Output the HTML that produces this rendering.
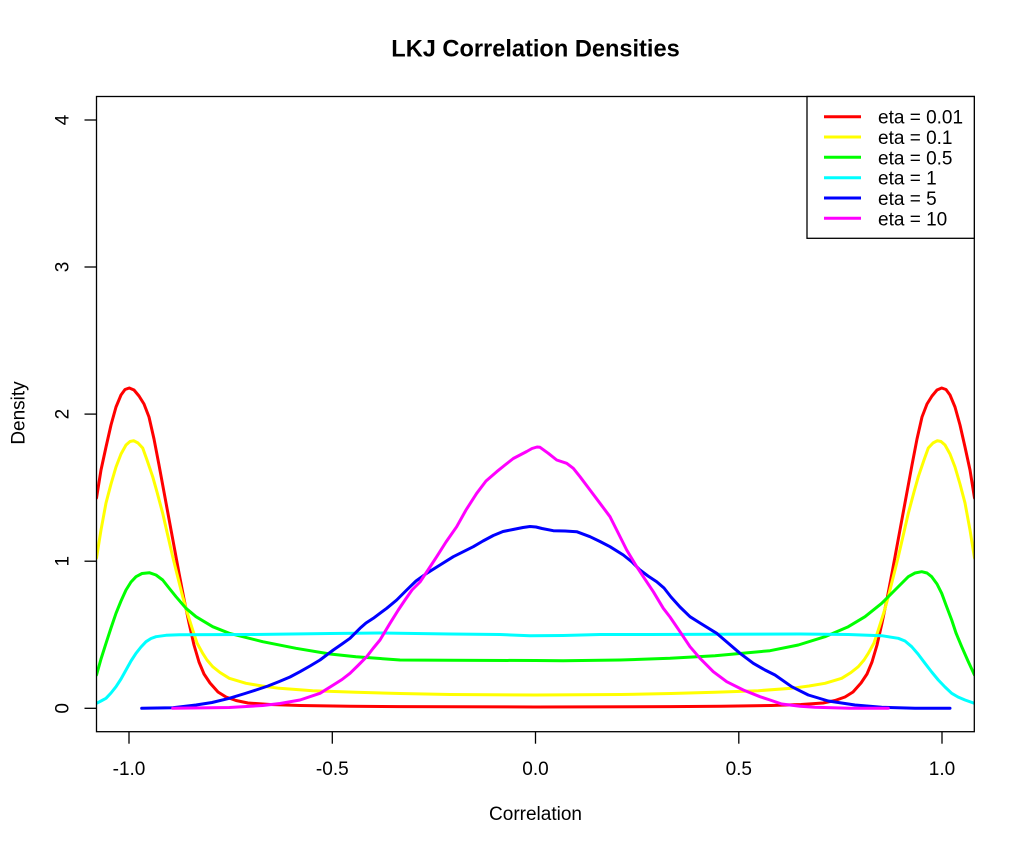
<!DOCTYPE html>
<html>
<head>
<meta charset="utf-8">
<style>
  html, body { margin: 0; padding: 0; background: #ffffff; }
  svg { display: block; }
  text { font-family: "Liberation Sans", Arial, sans-serif; fill: #000; }
</style>
</head>
<body>
<svg width="1024" height="852" viewBox="0 0 1024 852" xmlns="http://www.w3.org/2000/svg">
  <rect x="0" y="0" width="1024" height="852" fill="#ffffff"/>
  <defs>
    <clipPath id="plot">
      <rect x="96.5" y="96.5" width="877.8" height="635.2"/>
    </clipPath>
  </defs>

  <!-- Title -->
  <text x="535.5" y="56.5" font-size="23.6" font-weight="bold" text-anchor="middle">LKJ Correlation Densities</text>

  <!-- Curves -->
  <g clip-path="url(#plot)" fill="none" stroke-width="3" stroke-linejoin="round" stroke-linecap="round">
    <!-- red eta=0.01 -->
    <polyline stroke="#FF0000" points="96.5,498 101,470 106,447 111,425 116,407 121,395 125,389.5 129.3,388 134,390 139,396 144,404 149,417 154,439 159,465 164,492 169,519 174,546 179,573 184,599 189,623 194,645 199,662 204,674 210,683 218,692 226,697 236,700.5 248,703 270,704.5 300,705.5 350,706.2 400,706.6 535.5,707 671,706.6 721,706.2 771,705.5 801,704.5 823,703 835,700.5 845,697 853,692 861,683 867,674 872,662 877,645 882,623 887,599 892,573 897,546 902,519 907,492 912,465 917,439 922,417 927,404 932,396 937,390 941.7,388 946,389.5 950,395 955,407 960,425 965,447 970,470 974.5,498"/>
    <!-- yellow eta=0.1 -->
    <polyline stroke="#FFFF00" points="96.5,558 101,530 106,503 111,484 116,467 121,454 126,445 130,441.5 133.7,440.7 138,443 142.7,448 147,460 152.7,476.7 157,492 162.7,513.3 167,532 172.7,556.7 177,574 182.7,596.7 187,612 192.7,630 197,643 202.7,653.3 207,660 212.7,666.7 220,672.5 229.3,678.3 246,683.3 262,686 279.3,688.3 312.7,690.7 356,692.3 400,693.5 450,694.5 535.5,695 621,694.5 671,693.5 715,692.3 758.3,690.7 791.7,688.3 809,686 825,683.3 841.7,678.3 851,672.5 858.3,666.7 864,660 868.3,653.3 874,643 878.3,630 884,612 888.3,596.7 894,574 898.3,556.7 904,532 908.3,513.3 914,492 918.3,476.7 924,460 928.3,448 933,443 937.3,440.7 941,441.5 945,445 950,454 955,467 960,484 965,503 970,530 974.5,558"/>
    <!-- green eta=0.5 -->
    <polyline stroke="#00FF00" points="96.5,675 101,659 106,643.3 111,628 116,613.3 121,601 126,590 131,582 136,576.7 142,573.5 149.3,572.7 156,575 162.7,580 169,588 176,596.7 186,608.3 196,616.7 212.7,626.7 229.3,633.3 262.7,641.7 296,648.3 330,654 356,656.7 400,660 450,660.3 535.5,660.5 563,660.7 620,660 670,658.3 715,655.7 770,650.7 798.3,645 825,636.7 848.3,626.7 865,616.7 881.7,603.3 895,590 908.3,576.7 915,573 921.7,571.7 927,573 931.7,576.7 937,584 941.7,593.3 946,605 951.7,620 956,633 961.7,646.7 968,661 974.5,675"/>
    <!-- cyan eta=1 -->
    <polyline stroke="#00FFFF" points="96.5,703.3 101,701 106,698.3 111,693 116,686.7 121,679 126,670 131,661 136,653.3 141,647 146,641.7 151,638.5 156,636.7 166,635.3 179.3,634.7 250,634.5 330,633.5 380,633 450,634 500,634.5 530,635.8 563,635.5 600,634.5 650,634.5 715,634.3 800,634 848.3,634.5 881.7,635.7 898.3,638.3 905,641 911.7,646.7 918,654 925,663.3 931.7,672 938.3,680 945,687 951.7,693.3 958,697 965,700 974.5,703.3"/>
    <!-- blue eta=5 -->
    <polyline stroke="#0000FF" points="141.7,708.3 172.7,707.7 196,705 212,702.5 229.3,698.3 245,693.5 256,690 268,686 279.3,681.5 290,677 300,671.7 310,666 320,660 333.3,650 342,644 350,638.3 360,628.3 366,623 373.3,618.3 386.7,608.3 396.7,600 406.7,590 416,581 426.7,573.3 440,565 453.3,556.7 473.3,546.7 483,541 493.3,535.5 503,531.5 513,529.5 523,527.5 530,526.5 536,527 542,528.5 553.3,530.7 565,531 576.7,531.7 590,536.7 600,541.5 610,546.7 623.3,555 632,562 640,570 648,576 656.7,581.7 664,588 671,597 680,607 690,616.7 700,623 716.7,633.3 728.3,643.3 740,653.3 753.3,663.3 765,670 775,675 791.7,686.7 808.3,695 828.3,701 855,705 881.7,707.3 915,708.3 950,708.3"/>
    <!-- magenta eta=10 -->
    <polyline stroke="#FF00FF" points="172.7,708.3 229.3,707.5 262.7,705.5 280,703.5 300,700 320,693.3 333.3,685 342,679.5 350,673.3 358,665.5 366.7,656.7 373,648.5 380,640 390,623.3 398.3,610 405,600 412,590 420,582 428,570 436.7,556.7 446,542 456.7,526.7 466,510 476.7,493.3 486,481 496.7,471.7 505,465 513.3,458.5 520,455 526.7,451.5 532,448.5 537,447 540,447.3 548.3,453.3 556.7,460 566.7,463.3 573.3,468.3 580,476.7 590,490 600,503.3 610,516.7 616.7,530 626.7,550 636.7,566.7 643.3,576.7 653.3,591.7 663.3,608.3 670,617 680,631.7 690,646.7 700,658.3 713.3,671.7 726.7,681.7 743.3,690 760,696.7 770,700 781.7,704 800,706.3 815,707.3 850,708.2 888.3,708.3"/>
  </g>

  <!-- Plot box -->
  <rect x="96.5" y="96.5" width="877.8" height="635.2" fill="none" stroke="#000" stroke-width="1.3"/>

  <!-- X axis ticks -->
  <g stroke="#000" stroke-width="1.3">
    <line x1="129" y1="731.7" x2="129" y2="743.7"/>
    <line x1="332.3" y1="731.7" x2="332.3" y2="743.7"/>
    <line x1="535.5" y1="731.7" x2="535.5" y2="743.7"/>
    <line x1="738.8" y1="731.7" x2="738.8" y2="743.7"/>
    <line x1="942" y1="731.7" x2="942" y2="743.7"/>
  </g>
  <g font-size="19" text-anchor="middle">
    <text x="129" y="775">-1.0</text>
    <text x="332.3" y="775">-0.5</text>
    <text x="535.5" y="775">0.0</text>
    <text x="738.8" y="775">0.5</text>
    <text x="942" y="775">1.0</text>
  </g>

  <!-- Y axis ticks -->
  <g stroke="#000" stroke-width="1.3">
    <line x1="84.5" y1="708.3" x2="96.5" y2="708.3"/>
    <line x1="84.5" y1="561.2" x2="96.5" y2="561.2"/>
    <line x1="84.5" y1="414.1" x2="96.5" y2="414.1"/>
    <line x1="84.5" y1="267" x2="96.5" y2="267"/>
    <line x1="84.5" y1="120" x2="96.5" y2="120"/>
  </g>
  <g font-size="19" text-anchor="middle">
    <text transform="translate(68.5,708.3) rotate(-90)">0</text>
    <text transform="translate(68.5,561.2) rotate(-90)">1</text>
    <text transform="translate(68.5,414.1) rotate(-90)">2</text>
    <text transform="translate(68.5,267) rotate(-90)">3</text>
    <text transform="translate(68.5,120) rotate(-90)">4</text>
  </g>

  <!-- Axis labels -->
  <text x="535.5" y="820" font-size="19" text-anchor="middle">Correlation</text>
  <text transform="translate(24.5,413) rotate(-90)" font-size="19" text-anchor="middle">Density</text>

  <!-- Legend -->
  <rect x="807" y="96.5" width="167.3" height="141.8" fill="#ffffff" stroke="#000" stroke-width="1.3"/>
  <g stroke-width="3">
    <line x1="824" y1="116.7" x2="861" y2="116.7" stroke="#FF0000"/>
    <line x1="824" y1="137" x2="861" y2="137" stroke="#FFFF00"/>
    <line x1="824" y1="157.3" x2="861" y2="157.3" stroke="#00FF00"/>
    <line x1="824" y1="177.7" x2="861" y2="177.7" stroke="#00FFFF"/>
    <line x1="824" y1="198" x2="861" y2="198" stroke="#0000FF"/>
    <line x1="824" y1="218.3" x2="861" y2="218.3" stroke="#FF00FF"/>
  </g>
  <g font-size="19">
    <text x="878" y="123.7">eta = 0.01</text>
    <text x="878" y="144">eta = 0.1</text>
    <text x="878" y="164.3">eta = 0.5</text>
    <text x="878" y="184.7">eta = 1</text>
    <text x="878" y="205">eta = 5</text>
    <text x="878" y="225.3">eta = 10</text>
  </g>
</svg>
</body>
</html>
